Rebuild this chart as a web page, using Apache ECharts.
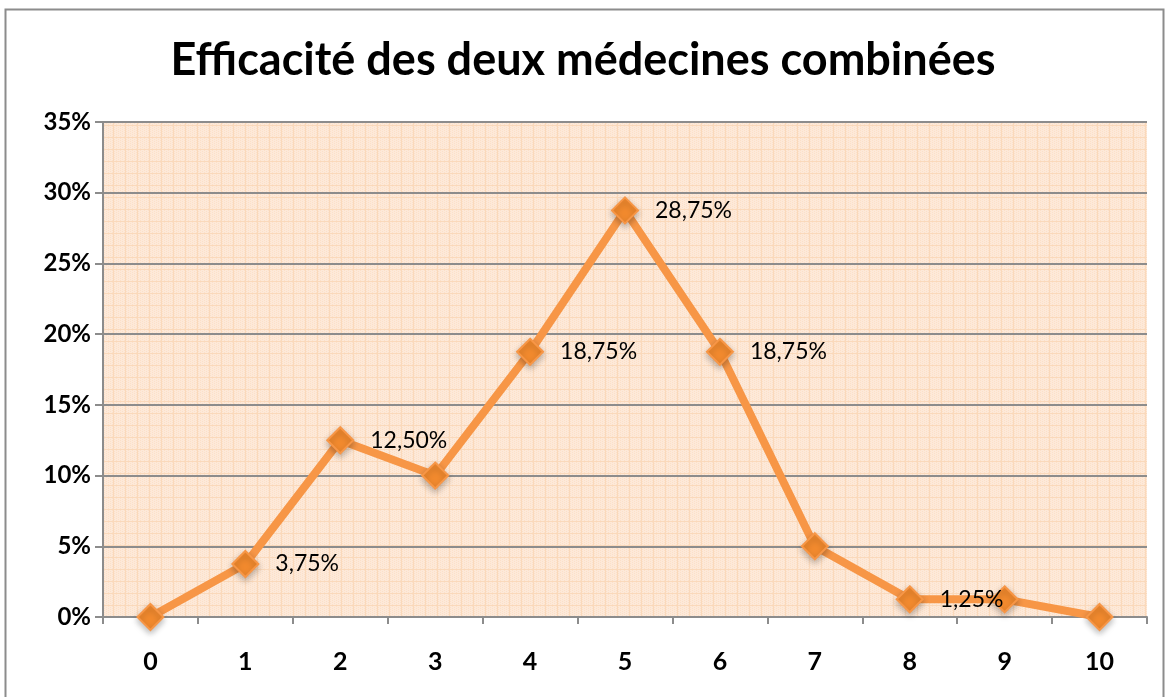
<!DOCTYPE html>
<html><head><meta charset="utf-8">
<script src="https://cdn.jsdelivr.net/npm/echarts@6/dist/echarts.min.js"></script>
<style>html,body{margin:0;padding:0;background:#fff}#c{width:1166px;height:697px}</style>
</head><body><div id="c"></div>
<script>
const titleText = 'Efficacité des deux médecines combinées';
const categories = ['0','1','2','3','4','5','6','7','8','9','10'];
const values = [0, 3.75, 12.5, 10, 18.75, 28.75, 18.75, 5, 1.25, 1.25, 0];
const labelShown = [false, true, true, false, true, true, true, false, true, false, false];
const yTicks = [0, 5, 10, 15, 20, 25, 30, 35];

// background pattern
const pc = document.createElement('canvas');
pc.width = 12; pc.height = 12;
const g = pc.getContext('2d');
g.fillStyle = '#fde9d9'; g.fillRect(0,0,12,12);
g.fillStyle = '#fce0c8';
for (let i=0;i<12;i+=2){ for(let j=(i/2)%2;j<12;j+=2){ g.fillRect(i,j,1,1);} }
g.fillStyle = '#fad9bb';
g.fillRect(0,5,12,1); g.fillRect(5,0,1,12);

const chart = echarts.init(document.getElementById('c'));
const font = 'Lato, "Open Sans", sans-serif';
chart.setOption({
  animation: false,
  title: { text: titleText, left: 'center', top: 33,
    textStyle: { fontFamily: font, fontWeight: 'bold', fontSize: 45, color: '#000' } },
  graphic: [{ type: 'rect', shape: { x: 5.5, y: 9.5, width: 1158, height: 700 },
    style: { fill: null, stroke: '#8c8c8c', lineWidth: 2 }, silent: true, z: -1 }],
  grid: { left: 103, right: 19, top: 122, bottom: 80, show: true,
    backgroundColor: { image: pc, repeat: 'repeat' }, borderWidth: 0 },
  xAxis: { type: 'category', data: categories, boundaryGap: true,
    axisLine: { lineStyle: { color: '#8c8c8c', width: 2 } },
    axisTick: { show: true, inside: false, length: 7, alignWithLabel: false, lineStyle: { color: '#8c8c8c', width: 2 } },
    axisLabel: { fontFamily: font, fontWeight: 'bold', fontSize: 25, color: '#000', margin: 32 } },
  yAxis: { type: 'value', min: 0, max: 35, interval: 5,
    axisLine: { show: true, lineStyle: { color: '#8c8c8c', width: 2 } },
    axisTick: { show: true, length: 8, lineStyle: { color: '#8c8c8c', width: 2 } },
    splitLine: { lineStyle: { color: '#8c8c8c', width: 2 } },
    axisLabel: { fontFamily: font, fontWeight: 'bold', fontSize: 24, color: '#000', margin: 12,
      formatter: v => yTicks.includes(v) ? v + '%' : '' } },
  series: [{
    type: 'line',
    data: values.map((v, i) => ({ value: v, label: { show: labelShown[i] } })),
    lineStyle: { color: '#f79646', width: 8 },
    symbol: 'path://M0,-1 L1,0 L0,1 L-1,0 Z',
    symbolSize: 26,
    itemStyle: { color: '#f28a2e', borderColor: '#f79646', borderWidth: 2,
      shadowColor: 'rgba(0,0,0,0.25)', shadowBlur: 6, shadowOffsetY: 3 },
    label: { position: 'right', distance: 16, fontFamily: font, fontSize: 23, color: '#000',
      formatter: p => p.value.toFixed(2).replace('.', ',') + '%' },
    z: 3
  }]
});
</script></body></html>
